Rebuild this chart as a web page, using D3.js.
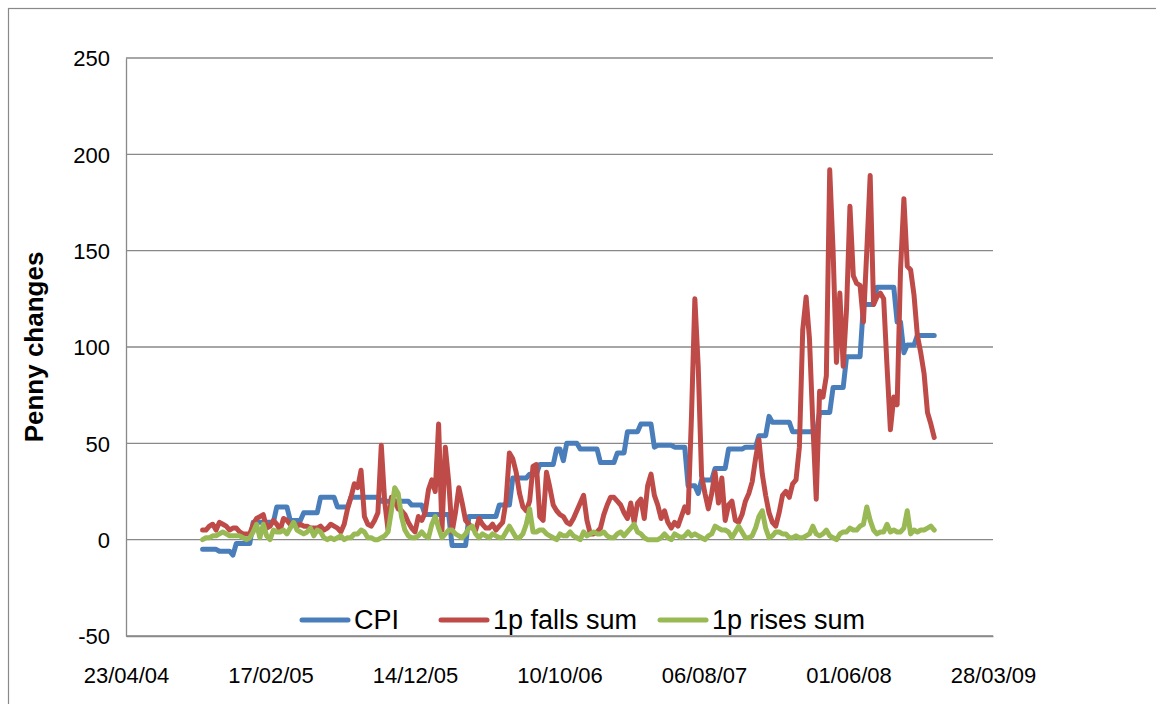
<!DOCTYPE html>
<html lang="en">
<head>
<meta charset="UTF-8">
<title>Penny changes</title>
<script src="https://d3js.org/d3.v7.min.js"></script>
<style>
    body { margin: 0; background: #fff; }
    svg text { font-family: "Liberation Sans", Arial, sans-serif; fill: #000; }
</style>
</head>
<body>
<svg id="chart" width="1156" height="704"></svg>
<script>
// weekly series, first week below, one value per week
const startDate = "2004-09-29";

const cpi = [
    -5,-5,-5,-5,-5,-6,-6,-6,-6,-8,
    -2,-2,-2,-2,-2,9,9,9,9,9,
    9,9,17,17,17,17,10,10,10,10,
    14,14,14,14,14,22,22,22,22,22,
    17,17,17,17,22,22,22,22,22,22,
    22,22,22,20,20,20,20,20,20,20,
    20,20,18,18,18,18,13,13,13,13,
    13,13,13,13,-3,-3,-3,-3,-3,12,
    12,12,12,12,12,12,12,12,18,18,
    18,18,32,32,32,32,32,34,34,34,
    39,39,39,39,39,47,47,41,50,50,
    50,50,47,47,47,47,47,47,40,40,
    40,40,40,45,45,45,56,56,56,56,
    60,60,60,60,48,49,49,49,49,49,
    48,48,48,48,28,28,28,24,31,31,
    31,31,37,37,37,37,47,47,47,47,
    47,48,48,48,48,54,54,54,64,61,
    61,61,61,61,61,56,56,56,56,56,
    56,56,55,66,66,66,66,79,79,79,
    79,95,95,95,95,95,122,122,122,122,
    131,131,131,131,131,131,113,113,97,101,
    101,101,106,106,106,106,106,106
];

const falls = [
    5,5,7,8,5,9,8,7,5,6,
    6,4,3,3,3,8,11,12,13,6,
    7,10,8,5,11,10,8,8,7,8,
    7,7,6,6,6,7,5,6,8,7,
    6,4,8,16,22,29,27,36,12,8,
    7,10,14,49,20,5,22,20,16,15,
    13,9,6,4,12,10,14,26,31,25,
    60,5,48,30,4,14,27,19,10,8,
    6,5,11,8,6,6,8,5,7,9,
    20,45,42,35,24,17,15,20,38,39,
    12,10,35,27,18,15,13,12,9,8,
    11,15,19,23,10,3,3,4,6,13,
    18,22,22,20,18,14,11,19,9,19,
    21,11,28,34,23,18,11,15,9,6,
    9,7,12,17,14,64,125,90,33,24,
    16,24,35,19,32,10,18,20,10,9,
    13,20,24,30,42,52,34,23,14,9,
    7,14,23,25,22,29,31,48,109,126,
    104,60,21,77,74,85,192,150,92,128,
    90,120,173,137,133,132,113,150,189,122,
    126,128,125,90,57,74,70,140,177,142,
    140,127,106,97,86,66,60,53
];

const rises = [
    0,1,1,2,2,3,4,3,2,2,
    2,2,1,0,1,4,8,1,8,2,
    0,5,4,4,5,3,6,9,5,4,
    3,4,6,2,5,4,1,0,1,0,
    1,2,0,1,1,3,3,5,4,1,
    1,0,0,1,2,4,15,27,24,12,
    5,2,1,1,2,4,2,1,8,12,
    6,1,3,5,5,3,2,1,3,6,
    7,3,1,3,2,1,3,2,1,1,
    4,7,4,1,1,3,8,16,4,4,
    5,5,3,2,1,0,3,2,2,4,
    2,1,0,4,2,3,4,3,3,4,
    2,1,1,3,4,2,4,6,8,4,
    3,1,0,0,0,0,1,3,1,0,
    3,2,1,2,4,2,3,2,1,0,
    2,3,7,6,5,5,4,1,4,7,
    4,1,1,2,6,12,15,6,1,2,
    4,4,3,3,1,1,2,1,1,2,
    3,7,3,2,3,5,2,1,0,3,
    4,4,6,5,5,7,8,17,10,5,
    3,4,4,8,4,5,4,4,6,15,
    3,5,4,5,5,6,7,5
];

const seriesNames = ["CPI", "1p falls sum", "1p rises sum"];
const seriesColors = ["#4a7ebb", "#be4b48", "#98b954"];
const xTickLabels = ["23/04/04", "17/02/05", "14/12/05", "10/10/06", "06/08/07", "01/06/08", "28/03/09"];
const yTicks = [-50, 0, 50, 100, 150, 200, 250];

const svg = d3.select("#chart");
const parseTick = d3.timeParse("%d/%m/%y");
const start = d3.timeParse("%Y-%m-%d")(startDate);
const dates = cpi.map((d, i) => d3.timeDay.offset(start, 7 * i));

const margin = {left: 126, right: 163, top: 58, bottom: 68};
const width = 1156, height = 704;

const x = d3.scaleTime()
    .domain([parseTick(xTickLabels[0]), parseTick(xTickLabels[xTickLabels.length - 1])])
    .range([margin.left, width - margin.right]);
const y = d3.scaleLinear()
    .domain([-50, 250])
    .range([height - margin.bottom, margin.top]);

// chart border
svg.append("rect")
    .attr("x", 8.5).attr("y", 8.5)
    .attr("width", 1160).attr("height", 720)
    .attr("fill", "#fff")
    .attr("stroke", "#898989")
    .attr("stroke-width", 1.2);

// gridlines
svg.append("g")
    .selectAll("line")
    .data(yTicks)
    .join("line")
    .attr("x1", margin.left).attr("x2", width - margin.right)
    .attr("y1", d => y(d)).attr("y2", d => y(d))
    .attr("stroke", "#898989")
    .attr("stroke-width", 1.3);

// y axis (plain hyphen for negatives, like Excel)
const yAxis = svg.append("g")
    .attr("transform", `translate(${margin.left},0)`)
    .call(d3.axisLeft(y).tickValues(yTicks).tickFormat(d => String(d)).tickSize(0).tickPadding(16));
yAxis.select(".domain").attr("stroke", "#898989").attr("stroke-width", 1.3);
yAxis.selectAll("text").style("font-size", "22px").attr("dy", "0.36em");

// x axis
const xAxis = svg.append("g")
    .attr("transform", `translate(0,${y(-50)})`)
    .call(d3.axisBottom(x)
        .tickValues(xTickLabels.map(parseTick))
        .tickFormat(d3.timeFormat("%d/%m/%y"))
        .tickSize(0).tickPadding(31));
xAxis.select(".domain").attr("stroke", "#898989").attr("stroke-width", 1.3);
xAxis.selectAll("text").style("font-size", "22px");

// axis title
svg.append("text")
    .attr("transform", `translate(43,347) rotate(-90)`)
    .attr("text-anchor", "middle")
    .style("font-size", "26px")
    .style("font-weight", "bold")
    .text("Penny changes");

// series lines
const line = d3.line()
    .x((d, i) => x(dates[i]))
    .y(d => y(d));

[cpi, falls, rises].forEach((s, k) => {
    svg.append("path")
        .datum(s)
        .attr("fill", "none")
        .attr("stroke", seriesColors[k])
        .attr("stroke-width", 5)
        .attr("stroke-linejoin", "round")
        .attr("stroke-linecap", "round")
        .attr("d", line);
});

// legend
const legendTextX = [354, 493, 712];
const legend = svg.append("g");
seriesNames.forEach((name, k) => {
    legend.append("line")
        .attr("x1", legendTextX[k] - 52).attr("x2", legendTextX[k] - 6)
        .attr("y1", 620).attr("y2", 620)
        .attr("stroke", seriesColors[k])
        .attr("stroke-width", 5)
        .attr("stroke-linecap", "round");
    legend.append("text")
        .attr("x", legendTextX[k])
        .attr("y", 629)
        .style("font-size", "27px")
        .text(name);
});
</script>
</body>
</html>
